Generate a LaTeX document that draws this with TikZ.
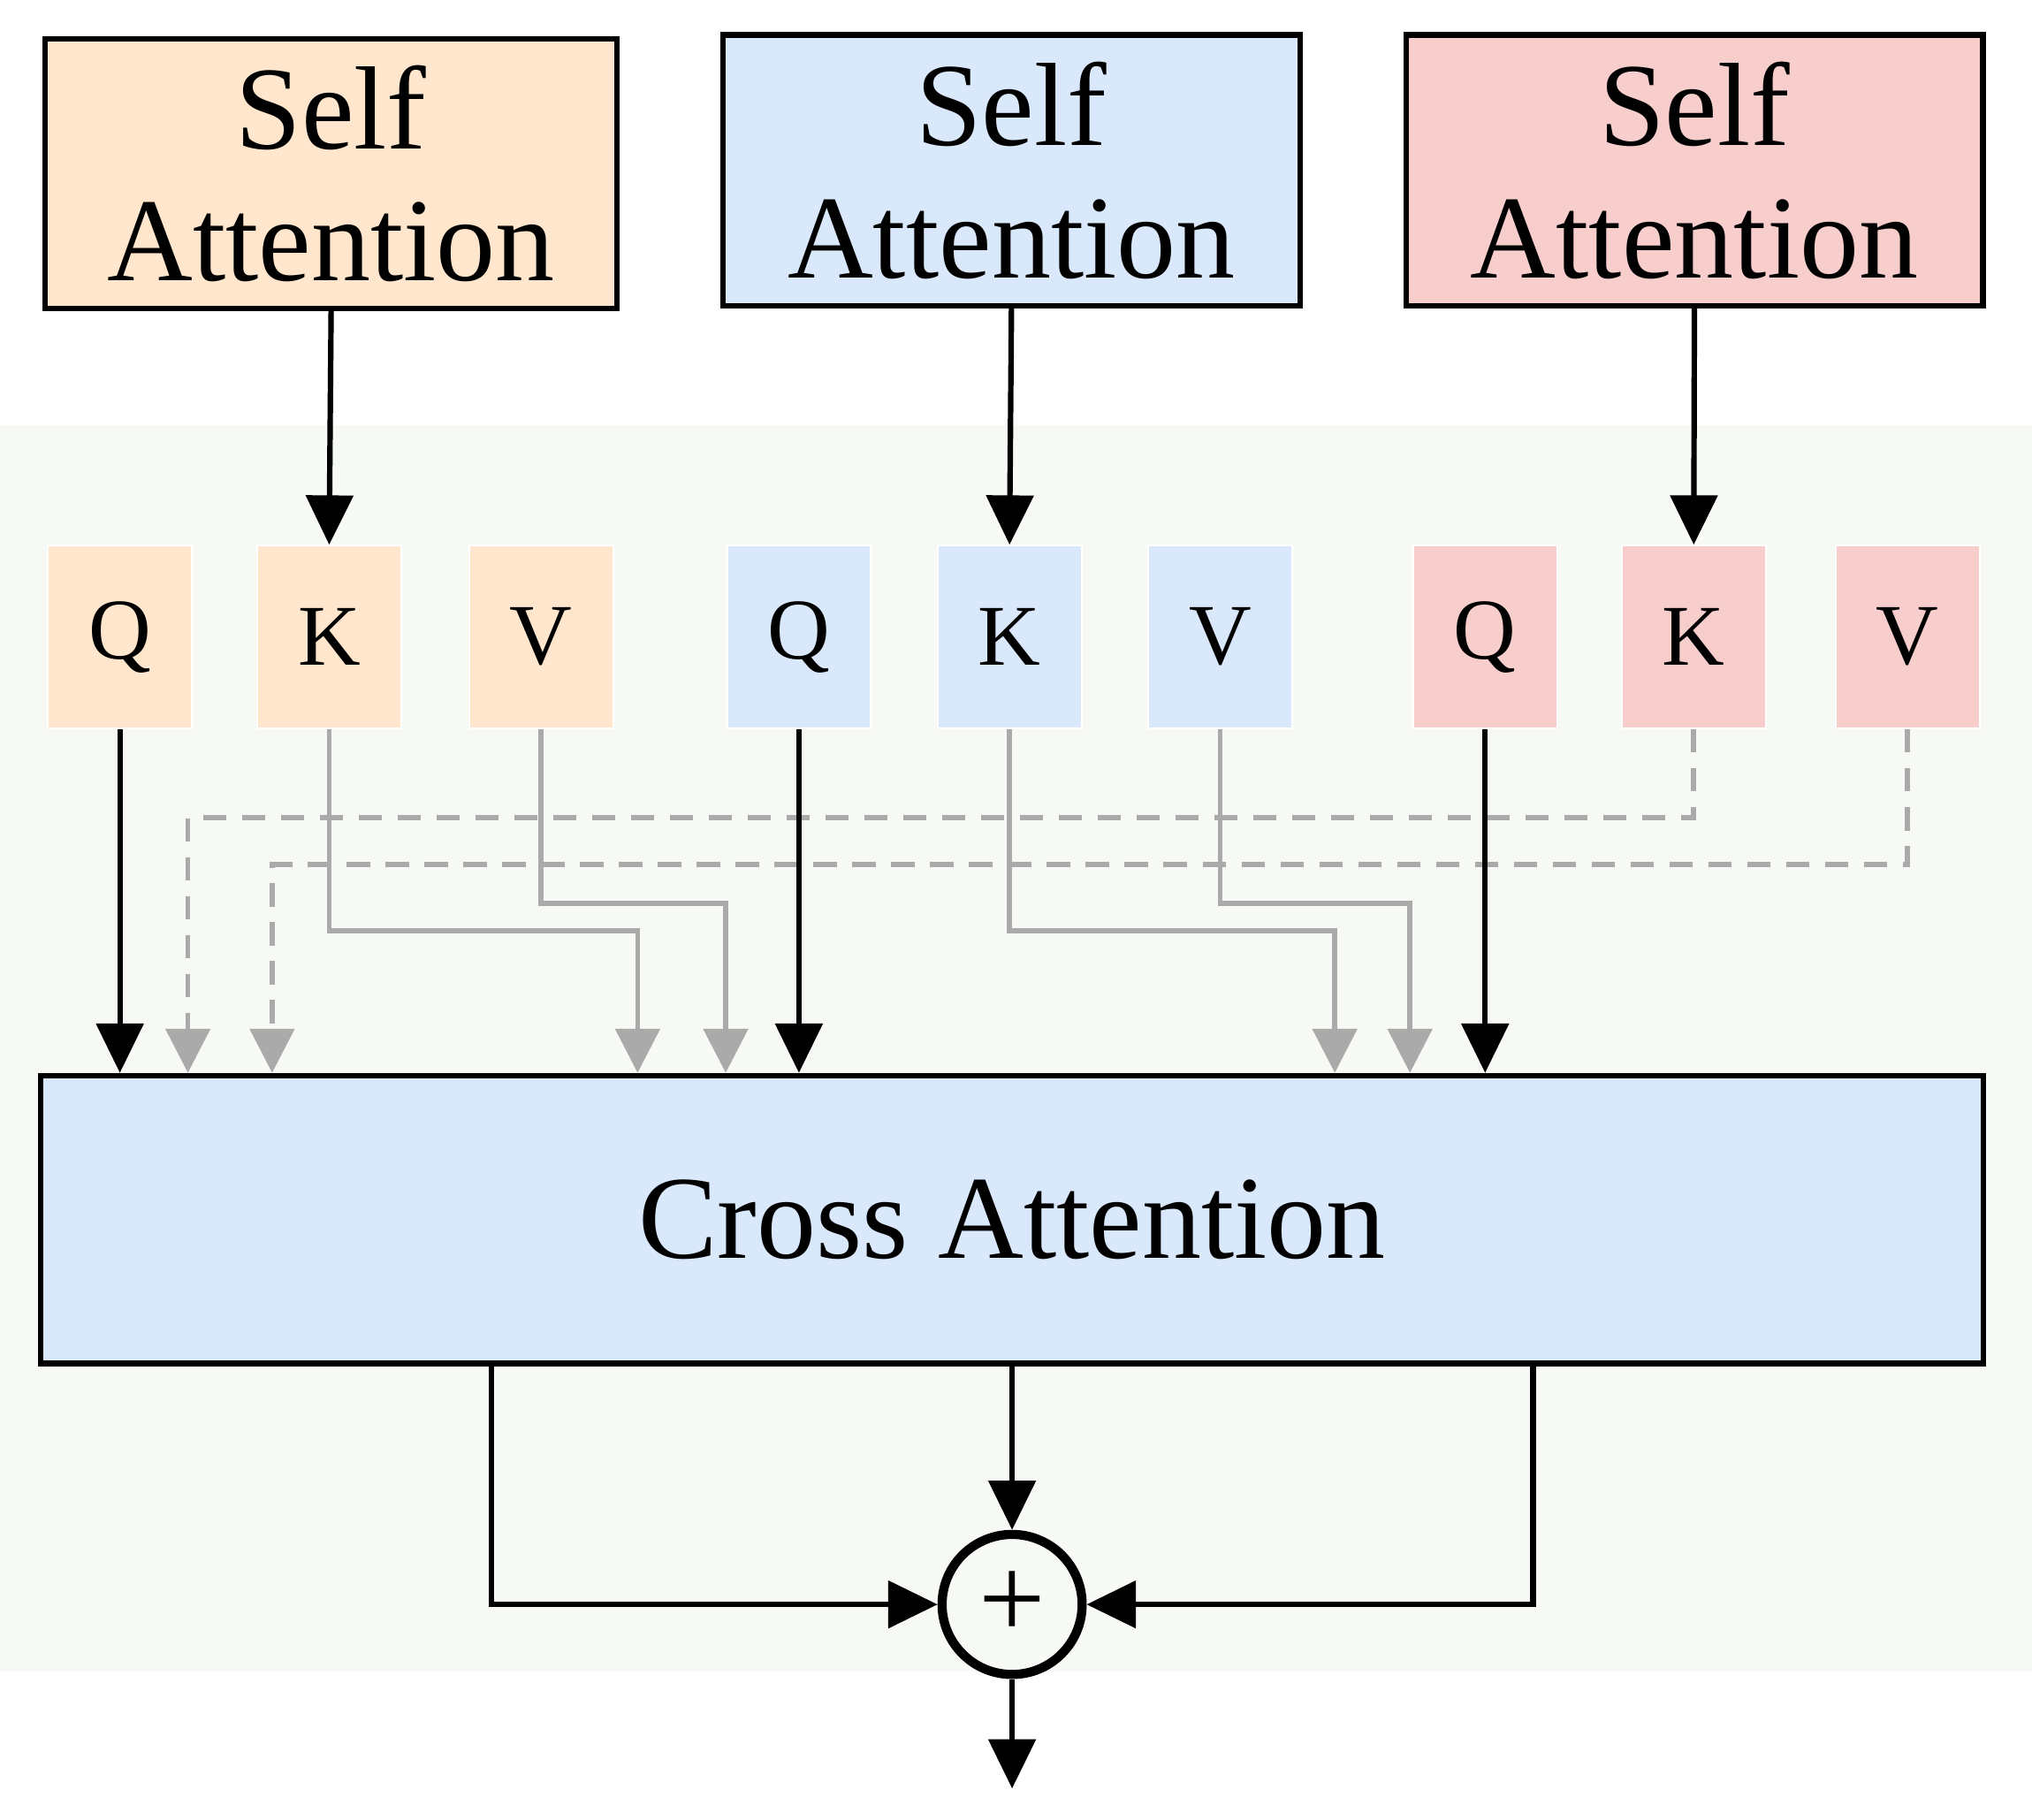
\documentclass[tikz,border=0pt]{standalone}
\usepackage{fontspec}
\setmainfont{Liberation Serif}
\usetikzlibrary{arrows.meta}
\definecolor{cor}{HTML}{FFE6CC}
\definecolor{cbl}{HTML}{DAE8FC}
\definecolor{crd}{HTML}{F8CECC}
\definecolor{bg}{HTML}{F7F9F5}
\definecolor{gr}{HTML}{AAAAAA}
\begin{document}
\begin{tikzpicture}[x=0.01cm,y=-0.01cm,
  big/.style={draw=black,line width=1.2pt,align=center,font=\fontsize{26}{29}\selectfont,inner sep=0pt},
  sm/.style={minimum width=1.11cm,minimum height=1.41cm,inner sep=0pt,font=\fontsize{19}{20}\selectfont,draw=white,line width=0.4pt},
  ba/.style={draw=black,line width=1.2pt,-{Triangle[width=0.36cm,length=0.38cm]}},
  gs/.style={draw=gr,line width=1.1pt,-{Triangle[width=0.34cm,length=0.34cm]}},
  gd/.style={gs,dash pattern=on 0.18cm off 0.12cm}]
\useasboundingbox (0,0) rectangle (1568,1404);
\fill[bg] (0,328) rectangle (1568,1290);
\node[big,fill=cor,minimum width=4.41cm,minimum height=2.08cm] (s1) at (255.5,134) {Self\\Attention};
\node[big,fill=cbl,minimum width=4.45cm,minimum height=2.09cm] (s2) at (780.5,131.5) {Self\\Attention};
\node[big,fill=crd,minimum width=4.45cm,minimum height=2.09cm] (s3) at (1307.5,131.5) {Self\\Attention};
\node[sm,fill=cor] (q1) at (92.5,491.5) {Q};
\node[sm,fill=cor] (k1) at (254,491.5) {K};
\node[sm,fill=cor] (v1) at (417.5,491.5) {V};
\node[sm,fill=cbl] (q2) at (616.5,491.5) {Q};
\node[sm,fill=cbl] (k2) at (779,491.5) {K};
\node[sm,fill=cbl] (v2) at (941.5,491.5) {V};
\node[sm,fill=crd] (q3) at (1146,491.5) {Q};
\node[sm,fill=crd] (k3) at (1307,491.5) {K};
\node[sm,fill=crd] (v3) at (1472,491.5) {V};
\node[big,fill=cbl,minimum width=14.98cm,minimum height=2.22cm] (ca) at (781,941) {Cross Attention};
\node[draw=black,line width=2pt,circle,minimum size=1.08cm,inner sep=0pt,font=\fontsize{26}{26}\selectfont] (p) at (781,1238) {+};
\coordinate (out) at (781,1380);
\coordinate (t1) at (145,631);
\coordinate (t2) at (210,667);
\coordinate (t3) at (492,718);
\coordinate (t4) at (560,697);
\coordinate (t5) at (1030,718);
\coordinate (t6) at (1088,697);
\coordinate (b1) at (379,1052);
\coordinate (b2) at (1183,1052);
\draw[ba] (s1.south) -- (k1.north);
\draw[ba] (s2.south) -- (k2.north);
\draw[ba] (s3.south) -- (k3.north);
\draw[gd] (k3.south) |- (t1) -- (t1 |- ca.north);
\draw[gd] (v3.south) |- (t2) -- (t2 |- ca.north);
\draw[gs] (k1.south) |- (t3) -- (t3 |- ca.north);
\draw[gs] (v1.south) |- (t4) -- (t4 |- ca.north);
\draw[gs] (k2.south) |- (t5) -- (t5 |- ca.north);
\draw[gs] (v2.south) |- (t6) -- (t6 |- ca.north);
\draw[ba] (q1.south) -- (q1.south |- ca.north);
\draw[ba] (q2.south) -- (q2.south |- ca.north);
\draw[ba] (q3.south) -- (q3.south |- ca.north);
\draw[ba] (ca.south) -- (p.north);
\draw[ba] (b1) |- (p.west);
\draw[ba] (b2) |- (p.east);
\draw[ba] (p.south) -- (out);
\end{tikzpicture}
\end{document}
